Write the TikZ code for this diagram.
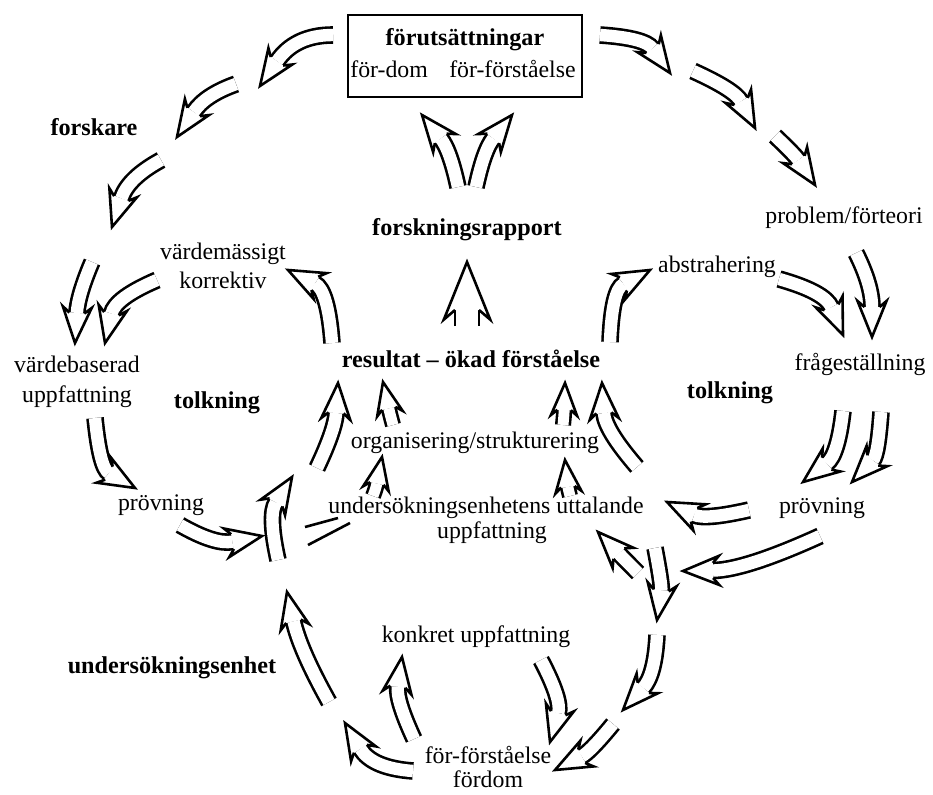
\documentclass[tikz,border=0pt]{standalone}
\usepackage{fontspec}
\setmainfont{Liberation Serif}
\usetikzlibrary{calc}

% hollow "double-line" arrow: #2 start, #3 control point (quadratic), #4 tip; #1 = size factor
\def\arrowlw{2.6pt}
\newcommand\harrow[4][1]{%
  \pgfmathsetlengthmacro\hL{30pt*#1}%
  \pgfmathsetlengthmacro\hW{7.5pt*#1}%
  \pgfmathsetlengthmacro\hH{14.5pt*#1}%
  \pgfmathsetlengthmacro\hB{6pt*#1}%
  \pgfmathsetlengthmacro\hD{15pt*#1-\arrowlw}%
  \coordinate (hs) at (#2);
  \coordinate (hc) at (#3);
  \coordinate (ht) at (#4);
  \coordinate (he) at ($(ht)!\hL!(hc)$);
  \coordinate (hc1) at ($(hs)!0.6667!(hc)$);
  \coordinate (hc2) at ($(he)!0.6667!(hc)$);
  \pgfmathanglebetweenpoints{\pgfpointanchor{hc}{center}}{\pgfpointanchor{ht}{center}}%
  \let\hA\pgfmathresult
  \draw[shaftline, double distance=\hD] (hs) .. controls (hc1) and (hc2) .. (he);
  \begin{scope}[shift={(ht)}, rotate=\hA]
    \filldraw[headline] (-\hL,\hW) -- ({-\hL-\hB},\hH) -- (0pt,0pt)
      -- ({-\hL-\hB},-\hH) -- (-\hL,-\hW);
  \end{scope}
}

\tikzset{
  shaftline/.style={line width=\arrowlw, draw=black, double=white},
  headline/.style={line width=\arrowlw, draw=black, fill=white, line join=miter},
  lbl/.style={inner sep=0pt, yshift=-3pt, text height=0.7em, text depth=0.2em,
    font=\fontsize{23.8}{29}\selectfont},
  blbl/.style={lbl, font=\fontsize{24.2}{29}\selectfont\bfseries},
}

\begin{document}
\begin{tikzpicture}[x=1pt, y=-1pt]
\useasboundingbox (0,0) rectangle (933,794);
\fill[white] (0,0) rectangle (933,794);

% ---- labels ----
\draw[line width=2pt] (348,15) rectangle (582,97);
\node[blbl] (pre1) at (465,40) {förutsättningar};
\node[lbl]  (pre2) at (463,72) {för-dom\hspace{0.9em}för-förståelse};
\node[blbl] (forskare) at (94,130) {forskare};
\node[blbl] (rapport) at (467,230) {forskningsrapport};
\node[lbl]  (problem) at (844,218) {problem/förteori};
\node[lbl]  (vm1) at (223,254) {värdemässigt};
\node[lbl]  (vm2) at (223,283) {korrektiv};
\node[lbl]  (abstr) at (717,267) {abstrahering};
\node[lbl]  (vb1) at (77,367) {värdebaserad};
\node[lbl]  (vb2) at (77,397) {uppfattning};
\node[blbl] (tolkL) at (217,403) {tolkning};
\node[blbl] (result) at (471,362) {resultat – ökad förståelse};
\node[lbl]  (fraga) at (860,365) {frågeställning};
\node[blbl] (tolkR) at (730,393) {tolkning};
\node[lbl]  (organ) at (475,443) {organisering/strukturering};
\node[lbl]  (provL) at (161,505) {prövning};
\node[lbl]  (ue1) at (486,508) {undersökningsenhetens uttalande};
\node[lbl]  (ue2) at (492,533) {uppfattning};
\node[lbl]  (provR) at (822,508) {prövning};
\node[blbl] (uenhet) at (172,668) {undersökningsenhet};
\node[lbl]  (konkret) at (476,637) {konkret uppfattning};
\node[lbl]  (ff1) at (488,758) {för-förståelse};
\node[lbl]  (ff2) at (488,782) {fördom};

% ---- outer ring, left side ----
\harrow{333,35}{295,35}{260,86}
\harrow{236,84}{205,95}{177,137}
\harrow{161,160}{128,178}{112,227}
\harrow{92,262}{78,295}{75,343}
\harrow{157,280}{115,298}{105,343}
\harrow{95,418}{100,468}{135,488}
\harrow{180,525}{215,545}{262,536}

% tail entering from the right, passing behind the rising arrow
\draw[line width=\arrowlw] (305,527) -- (338,518);
\draw[line width=\arrowlw] (308,545) -- (350,523);

\harrow{278,560}{268,515}{292,477}
\harrow{329,702}{300,650}{287,592}

% ---- lower loop ----
\harrow{413,771}{372,768}{345,723}
\harrow{414,739}{396,700}{402,657}
\harrow{541,660}{562,700}{550,742}
\harrow{613,724}{590,752}{555,770}
\harrow{655,548}{662,585}{657,620}
\harrow{657,635}{655,675}{623,710}
\harrow{638,573}{628,563}{598,532}

% ---- right side ----
\harrow{749,510}{705,520}{667,502}
\harrow{820,536}{745,570}{683,571}
\harrow{843,411}{838,455}{803,482}
\harrow{881,412}{878,455}{852,482}
\harrow{779,279}{825,292}{843,335}
\harrow{856,253}{872,285}{872,337}
\harrow{610,342}{612,290}{650,270}

% ---- centre ----
\harrow{637,467}{605,430}{602,383}
\harrow[0.9]{563,425}{564,415}{565,383}
\harrow[0.9]{393,425}{390,414}{383,382}
\harrow{317,468}{335,430}{338,383}
\harrow[0.9]{373,496}{376,488}{382,457}
\harrow[0.9]{570,496}{568,488}{565,460}
\harrow{332,343}{328,290}{288,270}
\harrow[1.6]{467,326}{467,318}{467,262}
\harrow{458,187}{450,150}{422,115}
\harrow{476,187}{484,150}{512,115}

% ---- outer ring, top right ----
\harrow{600,35}{645,38}{670,73}
\harrow{693,71}{735,90}{755,128}
\harrow{775,136}{795,155}{815,185}
\end{tikzpicture}
\end{document}
